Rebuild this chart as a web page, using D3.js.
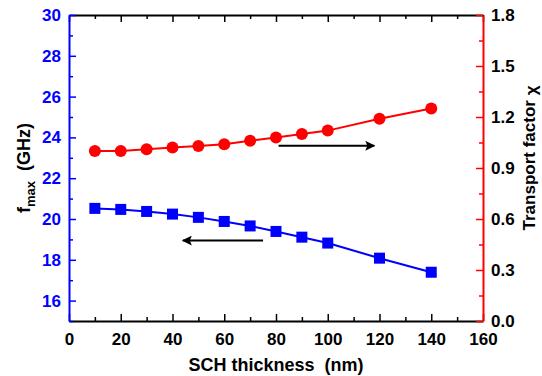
<!DOCTYPE html>
<html>
<head>
<meta charset="utf-8">
<script src="https://cdn.jsdelivr.net/npm/d3@7"></script>
<style>
  body { margin: 0; background: #fff; }
  text { font-family: "Liberation Sans", Arial, sans-serif; font-weight: bold; white-space: pre; }
</style>
</head>
<body>
<div id="chart"></div>
<script>
// SCH thickness (nm)
var thickness = [10, 20, 30, 40, 50, 60, 70, 80, 90, 100, 120, 140];
// f_max (GHz), left axis
var fmax = [20.52, 20.47, 20.37, 20.24, 20.08, 19.88, 19.66, 19.39, 19.11, 18.82, 18.08, 17.39];
// transport factor chi, right axis
var chi = [1.00, 1.00, 1.01, 1.02, 1.03, 1.04, 1.06, 1.08, 1.10, 1.12, 1.19, 1.25];

var xTicks = [0, 20, 40, 60, 80, 100, 120, 140, 160];
var leftTicks = [16, 18, 20, 22, 24, 26, 28, 30];
var rightTicks = [0.0, 0.3, 0.6, 0.9, 1.2, 1.5, 1.8];

// arrows pointing each series to its axis: [x from, x to, y on left axis]
var arrowRight = [81, 118, 23.59];
var arrowLeft = [75, 44, 18.94];

var width = 542, height = 376,
  margin = {top: 15, left: 69, bottom: 55, right: 59};

var svg = d3.select('#chart').append('svg')
  .attr('width', width)
  .attr('height', height);

var w = width - margin.left - margin.right,
  h = height - margin.top - margin.bottom;

var g = svg.append('g')
  .attr('transform', 'translate(' + margin.left + ',' + margin.top + ')');

var x = d3.scaleLinear().domain([0, 160]).range([0, w]);
var yL = d3.scaleLinear().domain([15, 30]).range([h, 0]);
var yR = d3.scaleLinear().domain([0, 1.8]).range([h, 0]);

function minors(major, step) {
  return major.slice(0, -1).map(function(d) { return d + step / 2; });
}

function styleAxis(sel, color, labelColor) {
  sel.selectAll('.domain').attr('stroke', color).attr('stroke-width', 2);
  sel.selectAll('.tick line').attr('stroke', color).attr('stroke-width', 1.5);
  sel.selectAll('.tick text').attr('fill', labelColor).style('font-size', '17px');
}

// bottom axis
var bx = g.append('g').attr('transform', 'translate(0,' + h + ')')
  .call(d3.axisBottom(x).tickValues(xTicks).tickSizeInner(-7).tickSizeOuter(0).tickPadding(12));
styleAxis(bx, '#000', '#000');
var bxm = g.append('g').attr('transform', 'translate(0,' + h + ')')
  .call(d3.axisBottom(x).tickValues(minors(xTicks, 20)).tickSizeInner(-4).tickSizeOuter(0).tickFormat(''));
styleAxis(bxm, '#000', '#000');
bxm.select('.domain').remove();

// top axis
var tx = g.append('g')
  .call(d3.axisTop(x).tickValues(xTicks).tickSizeInner(-7).tickSizeOuter(0).tickFormat(''));
styleAxis(tx, '#000', '#000');
var txm = g.append('g')
  .call(d3.axisTop(x).tickValues(minors(xTicks, 20)).tickSizeInner(-4).tickSizeOuter(0).tickFormat(''));
styleAxis(txm, '#000', '#000');
txm.select('.domain').remove();

// left axis (blue)
var ly = g.append('g')
  .call(d3.axisLeft(yL).tickValues(leftTicks).tickSizeInner(-7).tickSizeOuter(0).tickPadding(8));
styleAxis(ly, '#0000ff', '#0000ff');
var lym = g.append('g')
  .call(d3.axisLeft(yL).tickValues([15].concat(minors(leftTicks, 2))).tickSizeInner(-4).tickSizeOuter(0).tickFormat(''));
styleAxis(lym, '#0000ff', '#0000ff');
lym.select('.domain').remove();

// right axis (red)
var ry = g.append('g').attr('transform', 'translate(' + w + ',0)')
  .call(d3.axisRight(yR).tickValues(rightTicks).tickSizeInner(-7).tickSizeOuter(0).tickPadding(8)
    .tickFormat(d3.format('.1f')));
styleAxis(ry, '#ff0000', '#000');
var rym = g.append('g').attr('transform', 'translate(' + w + ',0)')
  .call(d3.axisRight(yR).tickValues(minors(rightTicks, 0.3)).tickSizeInner(-4).tickSizeOuter(0).tickFormat(''));
styleAxis(rym, '#ff0000', '#000');
rym.select('.domain').remove();

// axis titles
g.append('text')
  .attr('x', w / 2).attr('y', h + 50)
  .attr('text-anchor', 'middle')
  .style('font-size', '18px')
  .text('SCH thickness  (nm)');

var lt = g.append('text')
  .attr('transform', 'translate(' + (-39) + ',' + (h / 2) + ') rotate(-90)')
  .attr('text-anchor', 'middle')
  .style('font-size', '18px');
lt.append('tspan').text('f');
lt.append('tspan').attr('dy', 5).style('font-size', '13px').text('max');
lt.append('tspan').attr('dy', -5).text('  (GHz)');

var rt = g.append('text')
  .attr('transform', 'translate(' + (w + 52) + ',' + (h / 2 - 10) + ') rotate(-90)')
  .attr('text-anchor', 'middle')
  .style('font-size', '17px');
rt.append('tspan').text('Transport factor ');
rt.append('tspan').attr('dy', 2).text('χ');

// series
var fData = thickness.map(function(d, i) { return [d, fmax[i]]; });
var cData = thickness.map(function(d, i) { return [d, chi[i]]; });

g.append('path')
  .datum(fData)
  .attr('fill', 'none').attr('stroke', '#0000ff').attr('stroke-width', 2)
  .attr('d', d3.line().x(function(d) { return x(d[0]); }).y(function(d) { return yL(d[1]); }));

g.append('path')
  .datum(cData)
  .attr('fill', 'none').attr('stroke', '#ff0000').attr('stroke-width', 2)
  .attr('d', d3.line().x(function(d) { return x(d[0]); }).y(function(d) { return yR(d[1]); }));

var sq = 11;
g.append('g').selectAll('rect')
  .data(fData).enter().append('rect')
  .attr('x', function(d) { return x(d[0]) - sq / 2; })
  .attr('y', function(d) { return yL(d[1]) - sq / 2; })
  .attr('width', sq).attr('height', sq)
  .attr('fill', '#0000ff');

g.append('g').selectAll('circle')
  .data(cData).enter().append('circle')
  .attr('cx', function(d) { return x(d[0]); })
  .attr('cy', function(d) { return yR(d[1]); })
  .attr('r', 6)
  .attr('fill', '#ff0000');

// arrows
svg.append('defs').append('marker')
  .attr('id', 'head')
  .attr('viewBox', '0 0 10 10')
  .attr('refX', 9).attr('refY', 5)
  .attr('markerWidth', 7).attr('markerHeight', 5)
  .attr('markerUnits', 'strokeWidth')
  .attr('orient', 'auto')
  .append('path')
  .attr('d', 'M0,0 L10,5 L0,10 L2,5 Z')
  .attr('fill', '#000');

[arrowRight, arrowLeft].forEach(function(a) {
  g.append('line')
    .attr('x1', x(a[0])).attr('x2', x(a[1]))
    .attr('y1', yL(a[2])).attr('y2', yL(a[2]))
    .attr('stroke', '#000').attr('stroke-width', 2)
    .attr('marker-end', 'url(#head)');
});
</script>
</body>
</html>
